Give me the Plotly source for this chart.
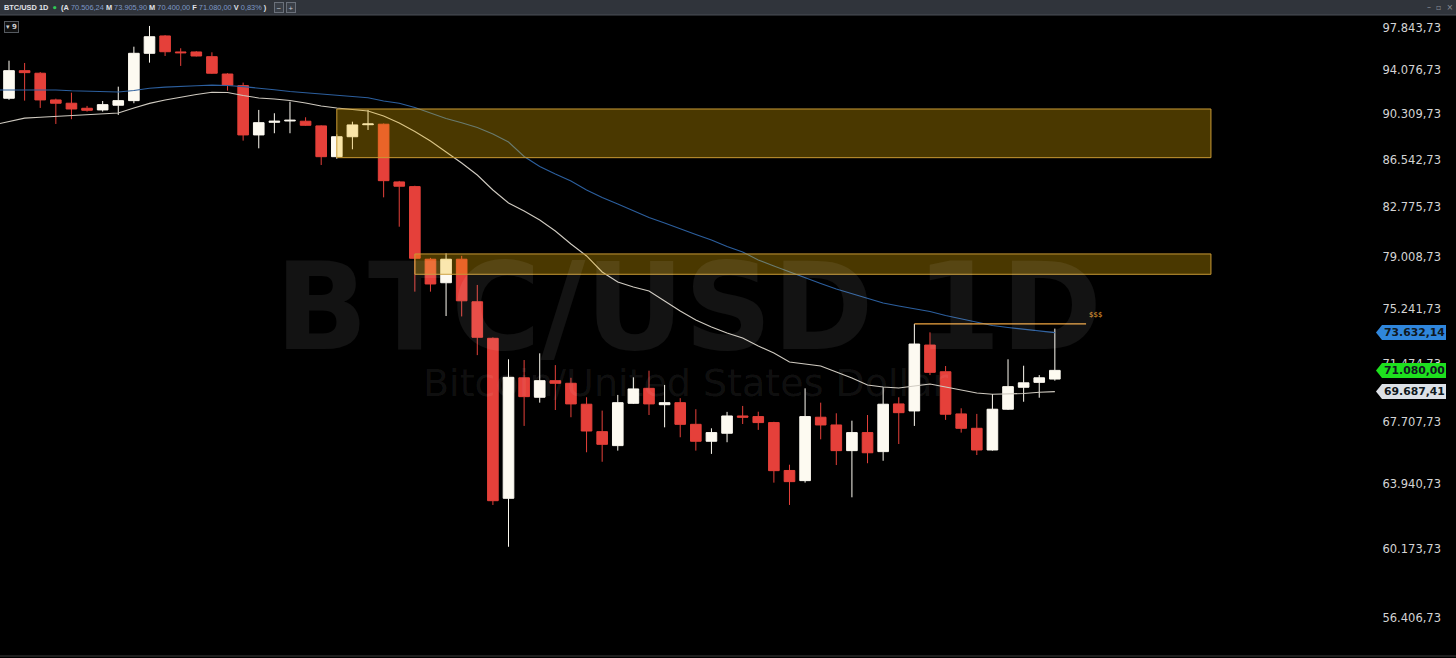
import math
import pandas as pd
import plotly.graph_objects as go

# ---------------- data ----------------
start_date = "2026-01-05"
opens = [91634, 94024, 93800, 91490, 91210, 90780, 90640, 91040, 91430, 95560,
         97120, 95680, 95680, 95260, 93730, 92720, 88550, 89600, 89710, 89690,
         89300, 86770, 88400, 89400, 89440, 84750, 84380, 78850, 77140, 78850,
         75780, 73240, 63080, 70590, 69320, 70400, 70230, 68870, 67130, 66260,
         68930, 69900, 68840, 68970, 67590, 66530, 67030, 68120, 68080, 67700,
         64740, 64130, 68040, 67550, 65950, 67070, 65890, 68890, 68440, 72780,
         70990, 68250, 67340, 65990, 68550, 69970, 70290, 70506.24]
highs = [94902, 94700, 93900, 91600, 92110, 90980, 91400, 92630, 96150, 98030,
         97200, 96010, 95750, 95650, 93800, 92980, 90640, 90360, 91340, 90020,
         89350, 88600, 89650, 90640, 89500, 84830, 84450, 78950, 79290, 79100,
         76980, 73300, 71820, 71770, 72220, 71430, 70590, 69320, 68460, 69470,
         70620, 71060, 70120, 69260, 68550, 67340, 68380, 68760, 68390, 67750,
         65090, 69900, 68970, 68290, 67820, 68180, 69970, 69320, 74230, 73650,
         71370, 68610, 68250, 69530, 71820, 71390, 70770, 73905.90]
lows = [91500, 91430, 90810, 89460, 89860, 90500, 90500, 90220, 91210, 94730,
        95320, 94440, 95280, 93750, 92290, 88080, 87450, 88690, 88690, 89300,
        86100, 86600, 87370, 88960, 83540, 81280, 76500, 76500, 74780, 74750,
        72100, 62690, 60290, 67490, 68970, 68500, 68040, 65850, 65270, 65950,
        68890, 68180, 67400, 66780, 65950, 65750, 66470, 67610, 67240, 64010,
        62690, 64010, 66650, 65070, 63140, 65180, 65330, 66360, 67490, 70770,
        67870, 67070, 65680, 65950, 68500, 69030, 69290, 70400.00]
closes = [94024, 93850, 91490, 91210, 90720, 90610, 91090, 91430, 95560, 97050,
          95700, 95610, 95320, 93800, 92750, 88550, 89570, 89690, 89770, 89350,
          86770, 88400, 89380, 89460, 84850, 84410, 78920, 77050, 78850, 75850,
          73310, 62940, 70620, 69360, 70400, 70230, 68890, 67170, 66340, 68970,
          69860, 68890, 68970, 67590, 66530, 67070, 68120, 68040, 67700, 64730,
          64070, 68080, 67550, 65950, 67070, 65820, 68870, 68330, 72850, 70950,
          68230, 67340, 65990, 68550, 70010, 70260, 70590, 71080.00]

ma_start_date = "2026-01-04"
ma_fast = [89379, 89671, 89947, 90023, 90090, 90150, 90200, 90259, 90386, 90808,
           91199, 91489, 91745, 91960, 92149, 92132, 91874, 91660, 91574, 91446,
           91233, 90978, 90808, 90681, 90554, 90133, 89546, 88838, 88050, 87151,
           86260, 85300, 84115, 83101, 82483, 81793, 80957, 79981, 79090, 77917,
           77192, 76831, 76545, 75834, 75129, 74501, 74016, 73603, 73258, 72713,
           72239, 71635, 71501, 71368, 70970, 70573, 70114, 69983, 69918, 70048,
           70179, 69983, 69790, 69598, 69513, 69520, 69560, 69640, 69687.41]
ma_slow = [92347, 92347, 92390, 92409, 92347, 92278, 92243, 92200, 92174, 92304,
           92492, 92587, 92674, 92709, 92761, 92735, 92631, 92519, 92364, 92218,
           92114, 91960, 91857, 91788, 91677, 91404, 91208, 90851, 90386, 89922,
           89563, 89171, 88631, 87968, 86785, 85979, 85379, 84823, 84115, 83528,
           83023, 82521, 81984, 81564, 81108, 80693, 80280, 79794, 79386, 78795,
           78355, 77917, 77518, 77083, 76688, 76367, 76011, 75692, 75480, 75305,
           75094, 74814, 74570, 74327, 74120, 73981, 73878, 73740, 73632.14]

tick_vals = [97843.73, 94076.73, 90309.73, 86542.73, 82775.73, 79008.73,
             75241.73, 71474.73, 67707.73, 63940.73, 60173.73, 56406.73]
tick_text = ["97.843,73", "94.076,73", "90.309,73", "86.542,73", "82.775,73",
             "79.008,73", "75.241,73", "71.474,73", "67.707,73", "63.940,73",
             "60.173,73", "56.406,73"]

zones = [  # start, end, low, high
    ("2026-01-26", "2026-03-23", 86690, 90720),
    ("2026-01-31", "2026-03-23", 77750, 79240),
]
level_line = ("2026-03-04", "2026-03-15", 74230)

tag_values = [73632.14, 71080.00, 69687.41]
tag_labels = ["73.632,14", "71.080,00", "69.687,41"]
tag_colors = ["#2f86dc", "#1ee01e", "#dde1e7"]

header_values = ["70.506,24", "73.905,90", "70.400,00", "71.080,00", "0,83%"]

# ---------------- figure ----------------
dates = pd.date_range(start_date, periods=len(opens), freq="D")
ma_dates = pd.date_range(ma_start_date, periods=len(ma_fast), freq="D")

RED = "#e5403a"
WHITE = "#fdfaf1"

fig = go.Figure()
fig.add_trace(go.Scatter(x=ma_dates, y=ma_slow, mode="lines",
                         line=dict(color="#2c5f9e", width=1.1), hoverinfo="skip"))
fig.add_trace(go.Scatter(x=ma_dates, y=ma_fast, mode="lines",
                         line=dict(color="#cfcac0", width=1.1), hoverinfo="skip"))
fig.add_trace(go.Candlestick(
    x=dates, open=opens, high=highs, low=lows, close=closes,
    increasing=dict(line=dict(color=WHITE, width=1), fillcolor=WHITE),
    decreasing=dict(line=dict(color=RED, width=1), fillcolor=RED),
    whiskerwidth=0, hoverinfo="skip"))

# zones
for z0, z1, lo, hi in zones:
    fig.add_shape(type="rect", xref="x", yref="y", x0=z0, x1=z1, y0=lo, y1=hi,
                  fillcolor="rgba(245,185,0,0.30)",
                  line=dict(color="#c99a34", width=1), layer="above")

# level line and $$$
fig.add_shape(type="line", xref="x", yref="y", x0=level_line[0], x1=level_line[1],
              y0=level_line[2], y1=level_line[2],
              line=dict(color="#f0a640", width=1.2), layer="above")
fig.add_annotation(x=level_line[1], y=math.log10(level_line[2]), xref="x", yref="y",
                   text="$$$", showarrow=False, xanchor="left", yanchor="bottom",
                   xshift=1, yshift=3, font=dict(size=7, color="#f0a030",
                                                 family="DejaVu Sans"))

# watermark
fig.add_annotation(x=0.477, y=0.546, xref="paper", yref="paper", text="<b>BTC/USD 1D</b>",
                   xanchor="center", showarrow=False,
                   font=dict(size=122, color="rgba(255,255,255,0.075)", family="DejaVu Sans"))
fig.add_annotation(x=0.475, y=0.427, xref="paper", yref="paper",
                   text="Bitcoin/United States Dollar", showarrow=False, xanchor="center",
                   font=dict(size=38, color="rgba(255,255,255,0.075)", family="DejaVu Sans"))

# price tags
PLOT_W = 1444.0
f = 10 ** (7.5 / 2467)
xt, xb, xr = 1376 / PLOT_W, 1382 / PLOT_W, 1446 / PLOT_W
for v, lab, col in zip(tag_values, tag_labels, tag_colors):
    path = (f"M {xt},{v} L {xb},{v*f} L {xr},{v*f} L {xr},{v/f} L {xb},{v/f} Z")
    fig.add_shape(type="path", xref="paper", yref="y", path=path,
                  fillcolor=col, line=dict(width=0), layer="above")
    fig.add_annotation(x=(xb + xr) / 2, y=math.log10(v), xref="paper", yref="y",
                       text=f"<b>{lab}</b>", showarrow=False, xanchor="center",
                       yanchor="middle",
                       font=dict(size=10.8, color="#101820", family="DejaVu Sans"))

# header bar
fig.add_shape(type="rect", xref="paper", yref="paper", x0=0, x1=1.01, y0=1 + 2 / 638,
              y1=1 + 17 / 638, fillcolor="#30343b", line=dict(width=0), layer="above")
fig.add_shape(type="line", xref="paper", yref="paper", x0=0, x1=1.01, y0=1 + 2 / 638,
              y1=1 + 2 / 638, line=dict(color="#4a4f57", width=1), layer="above")
vc = "#7d98c6"
htxt = ("<b>BTC/USD 1D</b>  <span style='color:#2ecc55'>●</span>  "
        f"<b>(A</b> <span style='color:{vc}'>{header_values[0]}</span> "
        f"<b>M</b> <span style='color:{vc}'>{header_values[1]}</span> "
        f"<b>M</b> <span style='color:{vc}'>{header_values[2]}</span> "
        f"<b>F</b> <span style='color:{vc}'>{header_values[3]}</span> "
        f"<b>V</b> <span style='color:{vc}'>{header_values[4]}</span> <b>)</b>")
fig.add_annotation(x=2 / PLOT_W, y=1 + 9 / 638, xref="paper", yref="paper", text=htxt,
                   showarrow=False, xanchor="left", yanchor="middle",
                   font=dict(size=7.4, color="#e0e3e8", family="Liberation Sans"))
for i, sym in enumerate(["−", "+"]):
    fig.add_annotation(x=(279 + 12 * i) / PLOT_W, y=1 + 9 / 638, xref="paper", yref="paper",
                       text=sym, showarrow=False, xanchor="center", yanchor="middle",
                       font=dict(size=8, color="#c8ccd2"),
                       bordercolor="#6a707a", borderwidth=1, borderpad=0,
                       bgcolor="#3a3f47", width=8, height=9)
fig.add_annotation(x=1440 / PLOT_W, y=1 + 9 / 638, xref="paper", yref="paper",
                   text="–  ▫  ×", showarrow=False, xanchor="center", yanchor="middle",
                   font=dict(size=8, color="#8a8f98", family="DejaVu Sans"))
fig.add_annotation(x=4 / PLOT_W, y=1 - 4 / 638, xref="paper", yref="paper",
                   text="<b>▾ 9</b>", showarrow=False, xanchor="left",
                   font=dict(size=7, color="#d0d0d0", family="DejaVu Sans"),
                   bordercolor="#555a60", borderwidth=1, borderpad=1, bgcolor="#101010")
fig.add_shape(type="line", xref="paper", yref="paper", x0=0, x1=1.01, y0=-1 / 638,
              y1=-1 / 638, line=dict(color="#3c3c3c", width=1), layer="above")

fig.update_layout(
    width=1456, height=658,
    margin=dict(l=0, r=12, t=17, b=3),
    paper_bgcolor="#000000", plot_bgcolor="#000000",
    showlegend=False, boxgap=0.32, boxgroupgap=0.0,
    xaxis=dict(type="date", range=["2026-01-04 10:10", "2026-04-06 22:19"],
               showgrid=False, zeroline=False, showticklabels=False,
               rangeslider=dict(visible=False), fixedrange=True),
    yaxis=dict(type="log", range=[4.73638, 4.99499], side="right",
               ticklabelposition="inside", tickmode="array",
               tickvals=tick_vals, ticktext=tick_text, ticks="",
               showgrid=False, zeroline=False, showline=False,
               tickfont=dict(size=11.5, color="#d4d4d4", family="DejaVu Sans")),
)

fig.write_html("out.html", config={"displayModeBar": False},
               post_script="document.body.style.margin='0';"
                           "document.body.style.padding='0';"
                           "document.body.style.background='#000';")
